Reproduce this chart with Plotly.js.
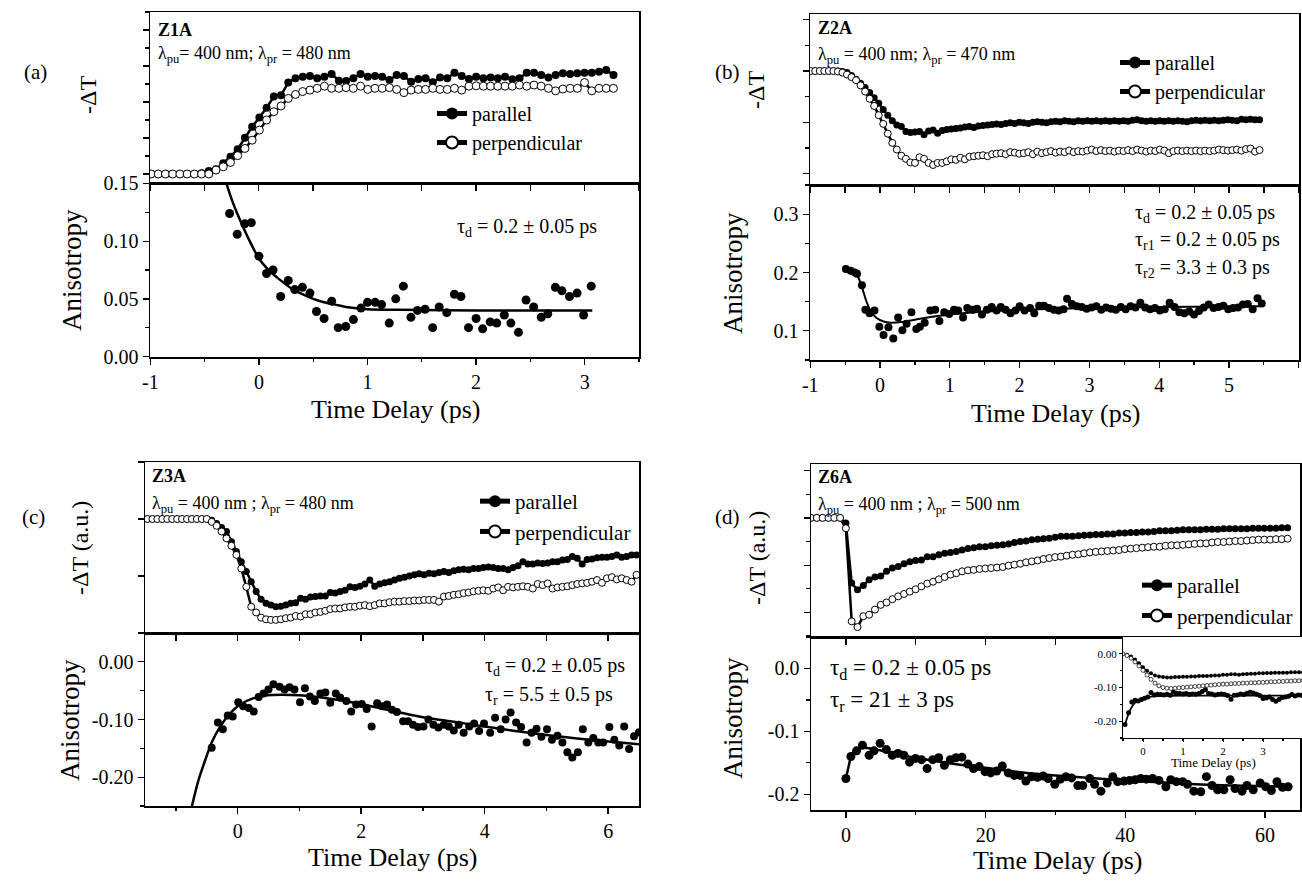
<!DOCTYPE html>
<html><head><meta charset="utf-8">
<script src="https://cdn.plot.ly/plotly-3.0.1.min.js"></script>
<style>html,body{margin:0;padding:0;background:#fff}</style>
</head><body><div id="chart" style="width:1302px;height:884px"></div>
<script>
// ---------------- DATA ----------------
// Panel (a) Z1A: -dT traces (evenly sampled)
const aDT_t0 = -0.991, aDT_dt = 0.0665;
const aPar = [0,0,0,0,0,0,0,0.02,0.08,0.13,0.30,0.48,0.69,1.01,1.31,1.57,1.84,2.15,2.19,2.54,2.66,2.70,2.72,2.66,2.70,2.78,2.59,2.58,2.66,2.78,2.70,2.72,2.70,2.61,2.75,2.72,2.56,2.64,2.66,2.55,2.68,2.66,2.81,2.72,2.64,2.70,2.66,2.68,2.66,2.70,2.63,2.66,2.81,2.81,2.75,2.68,2.75,2.80,2.78,2.80,2.81,2.81,2.84,2.89,2.75];
const aPerp = [0,0,0,0,0,0,0,0,0,0.11,0.20,0.32,0.51,0.71,0.94,1.22,1.50,1.73,1.89,2.10,2.21,2.29,2.33,2.38,2.44,2.38,2.38,2.40,2.38,2.44,2.35,2.38,2.38,2.40,2.35,2.26,2.33,2.35,2.35,2.38,2.35,2.35,2.38,2.33,2.44,2.45,2.44,2.44,2.44,2.44,2.44,2.47,2.44,2.47,2.44,2.38,2.31,2.36,2.38,2.38,2.54,2.31,2.38,2.38,2.38];
// Panel (a) anisotropy
const aT = [-0.27,-0.20,-0.13,-0.07,0.00,0.07,0.13,0.20,0.27,0.33,0.40,0.47,0.53,0.60,0.67,0.73,0.80,0.87,0.94,1.00,1.07,1.13,1.20,1.26,1.33,1.40,1.46,1.53,1.60,1.66,1.73,1.80,1.86,1.93,2.00,2.06,2.13,2.19,2.26,2.32,2.39,2.46,2.53,2.60,2.66,2.73,2.79,2.86,2.93,2.99,3.06];
const aAni = [0.124,0.106,0.115,0.116,0.087,0.072,0.075,0.052,0.066,0.058,0.060,0.055,0.039,0.033,0.048,0.025,0.026,0.032,0.042,0.047,0.047,0.045,0.029,0.050,0.061,0.034,0.040,0.041,0.025,0.043,0.038,0.054,0.052,0.025,0.033,0.024,0.030,0.029,0.036,0.029,0.021,0.049,0.043,0.034,0.037,0.060,0.057,0.052,0.055,0.036,0.061];
const aFitT = [-0.30,-0.25,-0.20,-0.10,0.00,0.10,0.20,0.30,0.40,0.50,0.60,0.70,0.80,1.00,1.30,2.00,3.07];
const aFit = [0.150,0.136,0.124,0.103,0.085,0.074,0.066,0.059,0.054,0.050,0.047,0.045,0.043,0.041,0.0405,0.040,0.040];

// Panel (b) Z2A
const bDT_t0 = -0.99, bDT_dt = 0.0649;
const bPar = [0,0,0,0,0,0,0,-0.01,-0.03,-0.09,
-0.16,-0.24,-0.32,-0.42,-0.52,-0.63,-0.75,-0.86,-0.97,-1.05,
-1.08,-1.18,-1.20,-1.19,-1.18,-1.24,-1.17,-1.15,-1.21,-1.16,
-1.14,-1.13,-1.12,-1.11,-1.09,-1.08,-1.10,-1.07,-1.06,-1.05,
-1.04,-1.03,-1.04,-1.02,-1.01,-1.02,-1.00,-1.01,-1.02,-1.00,
-0.99,-1.00,-1.01,-0.99,-0.98,-0.99,-0.97,-0.98,-0.99,-0.97,
-0.98,-0.97,-0.98,-0.97,-0.98,-0.97,-0.98,-0.97,-0.98,-0.97,
-0.98,-0.96,-0.95,-0.97,-0.98,-0.97,-0.98,-0.97,-0.98,-0.97,
-0.98,-0.97,-0.98,-0.99,-0.97,-0.96,-0.97,-0.96,-0.97,-0.96,
-0.97,-0.96,-0.95,-0.96,-0.97,-0.94,-0.95,-0.94,-0.95,-0.95];
const bPerp = [0,0,0,0,0,0,-0.01,-0.03,-0.07,-0.12,
-0.18,-0.28,-0.40,-0.54,-0.68,-0.86,-1.03,-1.22,-1.40,-1.53,
-1.65,-1.71,-1.78,-1.79,-1.68,-1.71,-1.79,-1.83,-1.79,-1.79,
-1.76,-1.72,-1.73,-1.69,-1.72,-1.67,-1.66,-1.65,-1.64,-1.66,
-1.62,-1.61,-1.60,-1.62,-1.58,-1.59,-1.61,-1.60,-1.58,-1.62,
-1.57,-1.60,-1.58,-1.56,-1.59,-1.57,-1.58,-1.55,-1.58,-1.56,
-1.57,-1.55,-1.53,-1.56,-1.54,-1.56,-1.55,-1.57,-1.55,-1.56,
-1.54,-1.56,-1.53,-1.55,-1.57,-1.55,-1.56,-1.53,-1.55,-1.60,
-1.56,-1.55,-1.56,-1.55,-1.56,-1.55,-1.56,-1.55,-1.56,-1.55,
-1.53,-1.54,-1.55,-1.54,-1.53,-1.55,-1.52,-1.51,-1.57,-1.54];
const bT = [-0.49,-0.42,-0.36,-0.33,-0.26,-0.21,-0.15,-0.08,-0.01,0.05,0.12,0.19,0.26,0.32,0.38,0.45,0.52,0.57,0.64,0.72,0.79,0.85,0.92,0.99,1.06,1.12,1.19,1.25,1.33,1.39,1.46,1.53,1.60,1.67,1.73,1.80,1.87,1.94,2.00,2.07,2.15,2.21,2.28,2.35,2.42,2.49,2.56,2.63,2.68,2.75,2.82,2.89,2.96,3.03,3.10,3.17,3.24,3.31,3.38,3.45,3.52,3.59,3.66,3.73,3.80,3.87,3.94,4.01,4.08,4.15,4.22,4.29,4.36,4.43,4.50,4.57,4.64,4.71,4.78,4.85,4.92,4.99,5.06,5.13,5.20,5.27,5.34,5.41,5.47];
const bAni = [0.206,0.203,0.200,0.198,0.178,0.136,0.130,0.135,0.107,0.093,0.106,0.087,0.123,0.101,0.112,0.132,0.103,0.107,0.114,0.135,0.136,0.117,0.132,0.129,0.136,0.135,0.123,0.139,0.136,0.138,0.128,0.136,0.141,0.135,0.141,0.136,0.130,0.135,0.142,0.135,0.139,0.130,0.143,0.143,0.139,0.136,0.135,0.137,0.155,0.146,0.142,0.141,0.138,0.140,0.142,0.136,0.140,0.138,0.136,0.141,0.137,0.142,0.140,0.148,0.140,0.137,0.139,0.135,0.137,0.148,0.141,0.132,0.130,0.133,0.128,0.134,0.140,0.145,0.139,0.141,0.143,0.137,0.139,0.140,0.145,0.146,0.137,0.156,0.147];
const bFitT = [-0.48,-0.40,-0.33,-0.26,-0.20,-0.13,-0.05,0.05,0.15,0.30,0.50,0.75,1.00,1.50,2.00,3.00,4.00,5.45];
const bFit = [0.205,0.203,0.196,0.175,0.152,0.133,0.122,0.116,0.114,0.115,0.119,0.124,0.128,0.133,0.136,0.139,0.141,0.142];

// Panel (c) Z3A
const cDT_t0 = -1.46, cDT_dt = 0.08;
const cPar = [0,0,0,0,0,0,0,0,0,0,0,0,
0,-0.02,-0.08,-0.15,-0.22,-0.40,-0.57,-0.75,-0.92,-1.10,
-1.27,-1.41,-1.48,-1.51,-1.54,-1.53,-1.51,-1.48,-1.47,-1.39,
-1.41,-1.37,-1.36,-1.35,-1.35,-1.29,-1.30,-1.27,-1.25,-1.19,
-1.20,-1.18,-1.14,-1.07,-1.18,-1.14,-1.12,-1.10,-1.07,-1.04,
-1.02,-1.00,-0.98,-0.96,-0.98,-0.95,-0.96,-0.94,-0.92,-0.94,
-0.91,-0.89,-0.88,-0.89,-0.87,-0.87,-0.85,-0.84,-0.85,-0.87,
-0.87,-0.89,-0.85,-0.82,-0.75,-0.79,-0.79,-0.77,-0.78,-0.77,
-0.75,-0.75,-0.72,-0.71,-0.66,-0.69,-0.79,-0.71,-0.70,-0.68,
-0.67,-0.67,-0.66,-0.63,-0.67,-0.66,-0.63,-0.63];
const cPerp = [0,0,0,0,0,0,0,0,0,0,0,0,
0,-0.05,-0.12,-0.22,-0.34,-0.47,-0.63,-0.87,-1.19,-1.54,
-1.64,-1.73,-1.76,-1.77,-1.77,-1.76,-1.74,-1.73,-1.70,-1.71,
-1.67,-1.67,-1.64,-1.63,-1.61,-1.58,-1.57,-1.57,-1.55,-1.54,
-1.54,-1.52,-1.51,-1.53,-1.51,-1.48,-1.48,-1.46,-1.45,-1.45,
-1.44,-1.44,-1.43,-1.43,-1.42,-1.42,-1.42,-1.45,-1.36,-1.35,
-1.33,-1.32,-1.30,-1.29,-1.27,-1.26,-1.25,-1.26,-1.22,-1.20,
-1.25,-1.19,-1.20,-1.19,-1.18,-1.19,-1.22,-1.14,-1.16,-1.13,
-1.22,-1.20,-1.19,-1.18,-1.16,-1.14,-1.13,-1.12,-1.10,-1.07,
-1.12,-1.04,-1.02,-1.06,-1.04,-1.07,-1.10,-0.98];
const cT = [-0.42,-0.32,-0.24,-0.16,-0.08,0.01,0.09,0.18,0.26,0.34,0.42,0.50,0.58,0.68,0.76,0.84,0.92,1.01,1.09,1.17,1.25,1.34,1.42,1.50,1.59,1.66,1.76,1.84,1.92,2.01,2.09,2.17,2.26,2.34,2.42,2.50,2.58,2.68,2.76,2.84,2.92,3.01,3.09,3.17,3.25,3.34,3.42,3.50,3.58,3.66,3.75,3.83,3.91,3.99,4.09,4.17,4.26,4.34,4.42,4.51,4.59,4.68,4.76,4.84,4.92,5.01,5.09,5.18,5.26,5.34,5.42,5.51,5.59,5.68,5.76,5.84,5.92,6.02,6.10,6.18,6.26,6.34,6.42,6.50];
const cAni = [-0.149,-0.105,-0.117,-0.093,-0.095,-0.070,-0.077,-0.080,-0.086,-0.061,-0.055,-0.048,-0.039,-0.043,-0.048,-0.044,-0.048,-0.070,-0.046,-0.060,-0.068,-0.055,-0.053,-0.071,-0.055,-0.062,-0.068,-0.086,-0.074,-0.073,-0.082,-0.112,-0.072,-0.077,-0.074,-0.083,-0.087,-0.103,-0.103,-0.109,-0.113,-0.112,-0.100,-0.109,-0.114,-0.109,-0.112,-0.119,-0.109,-0.123,-0.112,-0.107,-0.120,-0.107,-0.123,-0.097,-0.117,-0.100,-0.088,-0.105,-0.113,-0.140,-0.123,-0.116,-0.130,-0.117,-0.135,-0.128,-0.140,-0.157,-0.166,-0.157,-0.117,-0.140,-0.132,-0.140,-0.140,-0.113,-0.135,-0.145,-0.112,-0.151,-0.129,-0.122];
const cFitT = [-0.74,-0.63,-0.52,-0.42,-0.28,-0.12,0.04,0.26,0.48,0.70,1.00,1.50,2.00,2.50,3.00,3.50,4.00,4.50,5.00,5.50,6.00,6.50];
const cFit = [-0.250,-0.204,-0.169,-0.140,-0.112,-0.089,-0.074,-0.063,-0.058,-0.057,-0.058,-0.064,-0.073,-0.085,-0.096,-0.104,-0.112,-0.120,-0.127,-0.133,-0.138,-0.143];

// Panel (d) Z6A
const dDT_t0 = -5, dDT_dt = 0.832;
const dPar = [0,0,0,0,0,0,
-0.11,-1.38,-1.52,-1.43,-1.31,-1.25,-1.23,-1.13,-1.06,-1.03,
-0.97,-0.93,-0.90,-0.89,-0.82,-0.82,-0.78,-0.75,-0.73,-0.71,
-0.68,-0.65,-0.63,-0.61,-0.61,-0.59,-0.58,-0.57,-0.55,-0.52,
-0.50,-0.49,-0.46,-0.45,-0.44,-0.43,-0.41,-0.39,-0.39,-0.39,
-0.38,-0.37,-0.36,-0.35,-0.35,-0.34,-0.34,-0.32,-0.32,-0.31,
-0.31,-0.30,-0.30,-0.29,-0.27,-0.27,-0.27,-0.26,-0.25,-0.25,
-0.25,-0.25,-0.24,-0.24,-0.24,-0.23,-0.23,-0.23,-0.23,-0.23,
-0.22,-0.22,-0.22,-0.22,-0.22,-0.21,-0.21];
const dPerp = [0,0,0,0,0,0,
-0.22,-2.19,-2.31,-2.08,-2.05,-1.94,-1.84,-1.79,-1.72,-1.66,
-1.61,-1.56,-1.51,-1.45,-1.39,-1.35,-1.30,-1.25,-1.20,-1.17,
-1.13,-1.11,-1.10,-1.08,-1.07,-1.06,-1.05,-1.04,-1.01,-0.99,
-0.97,-0.94,-0.92,-0.90,-0.87,-0.85,-0.83,-0.82,-0.80,-0.78,
-0.77,-0.75,-0.73,-0.72,-0.71,-0.70,-0.69,-0.68,-0.66,-0.65,
-0.64,-0.63,-0.62,-0.61,-0.61,-0.59,-0.58,-0.58,-0.57,-0.56,
-0.55,-0.54,-0.54,-0.52,-0.51,-0.51,-0.50,-0.49,-0.49,-0.48,
-0.47,-0.46,-0.46,-0.46,-0.45,-0.45,-0.44];
const dT = [0,0.71,1.52,2.37,3.32,4.03,4.89,5.79,6.64,7.45,8.30,9.11,9.96,10.82,11.62,12.43,13.28,14.09,14.94,15.75,16.60,17.46,18.26,19.07,19.92,20.73,21.58,22.39,23.24,24.10,24.91,25.76,26.57,27.42,28.23,28.94,29.9,30.7,31.5,32.3,33.2,33.9,34.9,35.6,36.5,37.4,38.2,38.9,39.8,40.6,41.4,42.2,43.0,43.9,44.8,45.8,46.5,47.3,48.2,48.9,49.8,50.8,51.6,52.4,53.2,54.1,55.0,55.7,56.7,57.4,58.3,59.3,60.1,60.9,61.7,62.5,63.3];
const dAni = [-0.175,-0.140,-0.131,-0.122,-0.138,-0.131,-0.119,-0.129,-0.138,-0.135,-0.138,-0.149,-0.143,-0.145,-0.159,-0.145,-0.142,-0.154,-0.145,-0.142,-0.141,-0.152,-0.159,-0.156,-0.164,-0.166,-0.163,-0.155,-0.166,-0.170,-0.170,-0.179,-0.172,-0.173,-0.171,-0.175,-0.184,-0.176,-0.172,-0.174,-0.186,-0.186,-0.175,-0.184,-0.195,-0.182,-0.172,-0.180,-0.179,-0.178,-0.177,-0.175,-0.176,-0.175,-0.178,-0.188,-0.177,-0.180,-0.180,-0.184,-0.195,-0.196,-0.172,-0.186,-0.193,-0.193,-0.177,-0.191,-0.195,-0.186,-0.193,-0.182,-0.188,-0.194,-0.180,-0.189,-0.188];
const dFitT = [0,0.4,0.8,1.5,2.5,4,6,10,15,20,25,30,35,40,45,50,55,63.5];
const dFit = [-0.175,-0.155,-0.138,-0.128,-0.126,-0.128,-0.133,-0.142,-0.151,-0.158,-0.165,-0.170,-0.174,-0.178,-0.181,-0.184,-0.186,-0.188];

// Panel (d) inset
const inDT_t0 = -0.5, inDT_dt = 0.1;
const inPar = [0.000,-0.003,-0.008,-0.017,-0.028,-0.040,-0.050,-0.058,-0.064,-0.067,-0.069,-0.070,-0.070,-0.069,-0.069,-0.068,-0.068,-0.067,-0.067,-0.066,-0.066,-0.066,-0.065,-0.064,-0.064,-0.062,-0.062,-0.061,-0.061,-0.062,-0.061,-0.060,-0.059,-0.059,-0.058,-0.058,-0.057,-0.057,-0.056,-0.056,-0.056,-0.056,-0.055,-0.055,-0.055,-0.055];
const inPerp = [0.000,-0.005,-0.013,-0.024,-0.036,-0.049,-0.063,-0.076,-0.087,-0.095,-0.100,-0.102,-0.103,-0.102,-0.101,-0.100,-0.099,-0.098,-0.097,-0.096,-0.095,-0.094,-0.093,-0.092,-0.091,-0.090,-0.090,-0.089,-0.088,-0.088,-0.087,-0.087,-0.086,-0.086,-0.085,-0.085,-0.084,-0.083,-0.083,-0.082,-0.082,-0.081,-0.081,-0.080,-0.080,-0.079];
const inAniT = [-0.45,-0.36,-0.28,-0.20,-0.12,-0.04,0.04,0.12,0.20,0.28,0.36,0.44,0.52,0.60,0.68,0.76,0.84,0.92,1.00,1.08,1.16,1.24,1.32,1.40,1.48,1.56,1.64,1.72,1.80,1.88,1.96,2.04,2.12,2.20,2.28,2.36,2.44,2.52,2.60,2.68,2.76,2.84,2.92,3.00,3.08,3.16,3.24,3.32,3.40,3.48,3.56,3.64,3.72,3.80,3.88,3.96];
const inAni = [-0.210,-0.175,-0.143,-0.138,-0.140,-0.136,-0.132,-0.128,-0.115,-0.122,-0.120,-0.121,-0.122,-0.120,-0.123,-0.114,-0.117,-0.118,-0.119,-0.118,-0.121,-0.119,-0.120,-0.118,-0.112,-0.107,-0.118,-0.119,-0.122,-0.120,-0.119,-0.121,-0.124,-0.135,-0.123,-0.122,-0.119,-0.121,-0.117,-0.114,-0.116,-0.120,-0.124,-0.133,-0.131,-0.128,-0.136,-0.141,-0.136,-0.130,-0.128,-0.126,-0.121,-0.125,-0.122,-0.123];
const inFitT = [-0.45,-0.35,-0.25,-0.15,0,0.2,0.5,1,4];
const inFit = [-0.210,-0.175,-0.152,-0.140,-0.132,-0.127,-0.125,-0.124,-0.124];

// Tick labels
const aXticks = [-1,0,1,2,3], aXlabels = ['-1','0','1','2','3'];
const aYticks = [0,0.05,0.10,0.15], aYlabels = ['0.00','0.05','0.10','0.15'];
const bXticks = [-1,0,1,2,3,4,5,6], bXlabels = ['-1','0','1','2','3','4','5','6'];
const bYticks = [0.1,0.2,0.3], bYlabels = ['0.1','0.2','0.3'];
const cXticks = [0,2,4,6], cXlabels = ['0','2','4','6'];
const cYticks = [0,-0.1,-0.2], cYlabels = ['0.00','-0.10','-0.20'];
const dXticks = [0,20,40,60], dXlabels = ['0','20','40','60'];
const dYticks = [0,-0.1,-0.2], dYlabels = ['0.0','-0.1','-0.2'];
const inXticks = [0,1,2,3,4], inXlabels = ['0','1','2','3','4'];
const inYticks = [0,-0.1,-0.2], inYlabels = ['0.00','-0.10','-0.20'];

// ---------------- STYLE / LAYOUT ----------------
const FONT = 'Liberation Serif';
const W = 1302, H = 884;
const px = v => v / W, py = v => 1 - v / H;

function parTrace(x0, dx, y, xa, ya, lg, size) {
  return {type:'scatter', mode:'lines+markers', x0:x0, dx:dx, y:y, xaxis:xa, yaxis:ya, name:'parallel', legend:lg, showlegend:!!lg,
    line:{color:'#000', width:2.5}, marker:{symbol:'circle', size:size, color:'#000'}, cliponaxis:true};
}
function perpTrace(x0, dx, y, xa, ya, lg, size) {
  return {type:'scatter', mode:'lines+markers', x0:x0, dx:dx, y:y, xaxis:xa, yaxis:ya, name:'perpendicular', legend:lg, showlegend:!!lg,
    line:{color:'#000', width:2.5}, marker:{symbol:'circle', size:size, color:'#fff', line:{color:'#000', width:1}}, cliponaxis:true};
}
function aniTrace(x, y, xa, ya, size) {
  return {type:'scatter', mode:'markers', x:x, y:y, xaxis:xa, yaxis:ya, showlegend:false,
    marker:{symbol:'circle', size:size, color:'#000'}};
}
function fitTrace(x, y, xa, ya, w) {
  return {type:'scatter', mode:'lines', x:x, y:y, xaxis:xa, yaxis:ya, showlegend:false,
    line:{color:'#000', width:w, shape:'spline', smoothing:0.8}};
}

const traces = [
  parTrace(aDT_t0, aDT_dt, aPar, 'x', 'y', 'legend', 8),
  perpTrace(aDT_t0, aDT_dt, aPerp, 'x', 'y', 'legend', 8),
  fitTrace(aFitT, aFit, 'x2', 'y2', 2.5),
  aniTrace(aT, aAni, 'x2', 'y2', 9),

  parTrace(bDT_t0, bDT_dt, bPar, 'x3', 'y3', 'legend2', 7),
  perpTrace(bDT_t0, bDT_dt, bPerp, 'x3', 'y3', 'legend2', 7),
  fitTrace(bFitT, bFit, 'x4', 'y4', 2),
  aniTrace(bT, bAni, 'x4', 'y4', 8),

  parTrace(cDT_t0, cDT_dt, cPar, 'x5', 'y5', 'legend3', 7),
  perpTrace(cDT_t0, cDT_dt, cPerp, 'x5', 'y5', 'legend3', 7),
  fitTrace(cFitT, cFit, 'x6', 'y6', 2.5),
  aniTrace(cT, cAni, 'x6', 'y6', 8),

  parTrace(dDT_t0, dDT_dt, dPar, 'x7', 'y7', 'legend4', 7),
  perpTrace(dDT_t0, dDT_dt, dPerp, 'x7', 'y7', 'legend4', 7),
  fitTrace(dFitT, dFit, 'x8', 'y8', 2.5),
  aniTrace(dT, dAni, 'x8', 'y8', 9),

  {type:'scatter', mode:'lines+markers', x0:inDT_t0, dx:inDT_dt, y:inPar, xaxis:'x9', yaxis:'y9', showlegend:false,
    line:{color:'#000', width:1}, marker:{size:4, color:'#000'}},
  {type:'scatter', mode:'lines+markers', x0:inDT_t0, dx:inDT_dt, y:inPerp, xaxis:'x9', yaxis:'y9', showlegend:false,
    line:{color:'#000', width:0.8}, marker:{size:4, color:'#fff', line:{color:'#000', width:0.7}}},
  fitTrace(inFitT, inFit, 'x9', 'y9', 1.8),
  aniTrace(inAniT, inAni, 'x9', 'y9', 5)
];

const base = {showline:true, linecolor:'#000', linewidth:1.5, mirror:true, showgrid:false, zeroline:false,
  ticks:'outside', tickcolor:'#000', tickwidth:1.3, ticklen:6, fixedrange:true,
  tickfont:{family:FONT, size:20, color:'#000'}};
const minor = (t0, d, len) => ({ticks:'outside', ticklen:len || 3.5, tickwidth:1.3, tickcolor:'#000', tickmode:'linear', tick0:t0, dtick:d, showgrid:false});
function upperX(dom, range, anchor, t0, d) {
  return Object.assign({}, base, {domain:dom, range:range, anchor:anchor, showticklabels:false, tickmode:'linear', tick0:t0, dtick:d});
}
function upperY(dom, range, anchor, d, md) {
  const o = Object.assign({}, base, {domain:dom, range:range, anchor:anchor, showticklabels:false, tickmode:'linear', tick0:0, dtick:d});
  if (md) o.minor = minor(0, md);
  return o;
}
function lowerAx(dom, range, anchor, vals, txt, m) {
  return Object.assign({}, base, {domain:dom, range:range, anchor:anchor, tickmode:'array', tickvals:vals, ticktext:txt, minor:m});
}

const aX = [px(150), px(639)], bX = [px(810), px(1299)], cX = [px(145), px(639)], dX = [px(811), px(1300)];
const legFont = s => ({family:FONT, size:s, color:'#000'});
const legBase = {xanchor:'left', yanchor:'top', bgcolor:'rgba(0,0,0,0)', tracegroupgap:0, itemsizing:'constant'};

const layout = {
  width:W, height:H, margin:{l:0, r:0, t:0, b:0}, paper_bgcolor:'#fff', plot_bgcolor:'#fff',
  font:{family:FONT, color:'#000'},
  xaxis: upperX(aX, [-1, 3.5], 'y', -1, 0.5),
  yaxis: upperY([py(183), py(12)], [-0.25, 4.5], 'x', 1, 0.5),
  xaxis2: lowerAx(aX, [-1.003, 3.5], 'y2', aXticks, aXlabels, minor(-1, 0.5)),
  yaxis2: lowerAx([py(357), py(183)], [-0.0004, 0.1504], 'x2', aYticks, aYlabels, minor(0, 0.025)),

  xaxis3: upperX(bX, [-1, 6], 'y3', -1, 0.5),
  yaxis3: upperY([py(185), py(14)], [-2.22, 1.11], 'x3', 1, 0.5),
  xaxis4: lowerAx(bX, [-1.004, 6.004], 'y4', bXticks, bXlabels, minor(-1, 0.5)),
  yaxis4: lowerAx([py(360), py(185)], [0.05, 0.35], 'x4', bYticks, bYlabels, minor(0, 0.05)),

  xaxis5: upperX(cX, [-1.5, 6.5], 'y5', -1, 1),
  yaxis5: upperY([py(633), py(462)], [-2, 1], 'x5', 1, 0),
  xaxis6: lowerAx(cX, [-1.5, 6.5], 'y6', cXticks, cXlabels, minor(-1, 1)),
  yaxis6: lowerAx([py(806), py(633)], [-0.25, 0.05], 'x6', cYticks, cYlabels, minor(0, 0.05)),

  xaxis7: upperX(dX, [-5, 65], 'y7', 0, 10),
  yaxis7: upperY([py(637), py(464)], [-2.52, 1.14], 'x7', 1, 0.5),
  xaxis8: lowerAx(dX, [-5, 65], 'y8', dXticks, dXlabels, minor(0, 10)),
  yaxis8: lowerAx([py(810), py(637)], [-0.225, 0.05], 'x8', dYticks, dYlabels, minor(0, 0.05)),

  xaxis9: Object.assign({}, base, {domain:[px(1123), 1], range:[-0.5, 3.975], anchor:'y9', mirror:false, linewidth:1, ticklen:3, tickwidth:1,
    tickmode:'array', tickvals:inXticks, ticktext:inXlabels, tickfont:{family:FONT, size:11, color:'#000'}, minor:minor(0, 0.5, 2)}),
  yaxis9: Object.assign({}, base, {domain:[py(738), py(637)], range:[-0.25, 0.05], anchor:'x9', mirror:false, linewidth:1, ticklen:3, tickwidth:1,
    tickmode:'array', tickvals:inYticks, ticktext:inYlabels, tickfont:{family:FONT, size:11, color:'#000'}, minor:minor(0, 0.05, 2)}),

  legend:  Object.assign({}, legBase, {x:px(432), y:py(94), font:legFont(20)}),
  legend2: Object.assign({}, legBase, {x:px(1115), y:py(43), font:legFont(20)}),
  legend3: Object.assign({}, legBase, {x:px(475), y:py(481), font:legFont(21)}),
  legend4: Object.assign({}, legBase, {x:px(1137), y:py(565), font:legFont(21)}),
  annotations: []
};

function ann(text, x, y, size, o) {
  o = o || {};
  layout.annotations.push({text:text, xref:'paper', yref:'paper', x:px(x), y:py(y), showarrow:false,
    xanchor:o.xa || 'left', yanchor:'middle', textangle:o.rot || 0,
    font:{family:FONT, size:size, color:'#000'}});
}
// panel letters
ann('(a)', 35, 72, 21, {xa:'center'});
ann('(b)', 728, 72, 21, {xa:'center'});
ann('(c)', 33, 517, 21, {xa:'center'});
ann('(d)', 728, 517, 21, {xa:'center'});
// sample names
ann('<b>Z1A</b>', 156, 30, 18);
ann('<b>Z2A</b>', 816, 28, 18);
ann('<b>Z3A</b>', 150, 476, 18);
ann('<b>Z6A</b>', 816, 477, 18);
// wavelengths
ann('λ<sub>pu</sub>= 400 nm; λ<sub>pr</sub> = 480 nm', 156, 54, 18);
ann('λ<sub>pu</sub> = 400 nm; λ<sub>pr</sub> = 470 nm', 816, 55, 18);
ann('λ<sub>pu</sub> = 400 nm ; λ<sub>pr</sub> = 480 nm', 150, 504, 18);
ann('λ<sub>pu</sub> = 400 nm ; λ<sub>pr</sub> = 500 nm', 816, 505, 18);
// time constants
ann('τ<sub>d</sub> = 0.2 ± 0.05 ps', 455, 228, 20);
ann('τ<sub>d</sub> = 0.2 ± 0.05 ps', 1133, 213, 20);
ann('τ<sub>r1</sub> = 0.2 ± 0.05 ps', 1133, 241, 20);
ann('τ<sub>r2</sub> = 3.3 ± 0.3 ps', 1133, 268, 20);
ann('τ<sub>d</sub> = 0.2 ± 0.05 ps', 483, 666, 20);
ann('τ<sub>r</sub> = 5.5 ± 0.5 ps', 483, 695, 20);
ann('τ<sub>d</sub> = 0.2 ± 0.05 ps', 828, 669, 23);
ann('τ<sub>r</sub> = 21 ± 3 ps', 828, 701, 23);
// axis titles
ann('-ΔT', 88, 95, 24, {xa:'center', rot:-90});
ann('Anisotropy', 72, 270, 27, {xa:'center', rot:-90});
ann('Time Delay (ps)', 395, 409, 26, {xa:'center'});
ann('-ΔT', 756, 90, 24, {xa:'center', rot:-90});
ann('Anisotropy', 733, 273, 27, {xa:'center', rot:-90});
ann('Time Delay (ps)', 1055, 413, 26, {xa:'center'});
ann('-ΔT (a.u.)', 80, 548, 24, {xa:'center', rot:-90});
ann('Anisotropy', 70, 720, 27, {xa:'center', rot:-90});
ann('Time Delay (ps)', 392, 857, 26, {xa:'center'});
ann('-ΔT (a.u.)', 757, 558, 24, {xa:'center', rot:-90});
ann('Anisotropy', 733, 718, 27, {xa:'center', rot:-90});
ann('Time Delay (ps)', 1057, 860, 26, {xa:'center'});
ann('Time Delay (ps)', 1213, 762, 13, {xa:'center'});

Plotly.newPlot('chart', traces, layout, {displayModeBar:false, staticPlot:true});
</script></body></html>
